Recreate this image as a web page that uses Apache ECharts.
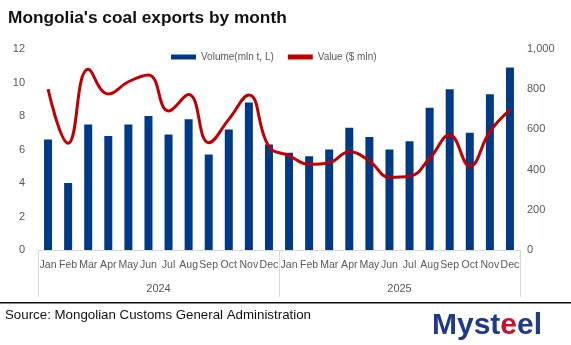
<!DOCTYPE html>
<html><head><meta charset="utf-8">
<script src="https://cdn.jsdelivr.net/npm/echarts@6/dist/echarts.min.js"></script>
<style>html,body{margin:0;padding:0;background:#fff}#c{width:571px;height:345px}</style>
</head><body><div id="c"></div>
<script>
const months = ['Jan','Feb','Mar','Apr','May','Jun','Jul','Aug','Sep','Oct','Nov','Dec','Jan','Feb','Mar','Apr','May','Jun','Jul','Aug','Sep','Oct','Nov','Dec'];
const years = ['2024','2025'];
const volume = [6.6,4.0,7.5,6.8,7.5,8.0,6.9,7.8,5.7,7.2,8.8,6.3, 5.8,5.6,6.0,7.3,6.75,6.0,6.5,8.5,9.6,7.0,9.3,10.9];
const value = [800,531,899,776,837,871,692,774,534,650,771,515, 470,426,434,489,443,362,367,456,572,418,589,697];
const leftTicks = [0,12,2];
const rightTicks = [0,1000,200];

const chart = echarts.init(document.getElementById('c'));
const grey = '#595959';
const font = 'Liberation Sans';
chart.setOption({
  animation:false,
  textStyle:{fontFamily:font},
  title:{text:"Mongolia's coal exports by month",left:3,top:5,textStyle:{fontSize:17.3,fontWeight:'bold',color:'#111',fontFamily:font}},
  legend:{left:166,top:47,itemGap:14,itemWidth:25,itemHeight:5,textStyle:{color:grey,fontSize:10},
    data:[{name:'Volume(mln t, L)',icon:'rect'},{name:'Value ($ mln)',icon:'rect',itemStyle:{color:'#C00000'}}]},
  grid:{left:38,right:51,top:49,bottom:95},
  xAxis:[
    {type:'category',data:months,position:'bottom',axisLine:{lineStyle:{color:'#d9d9d9'}},axisTick:{show:false},
     axisLabel:{interval:0,color:grey,fontSize:10.5,margin:10}},
    {type:'category',data:years,position:'bottom',axisLine:{show:false},
     axisTick:{show:true,length:47,inside:false,lineStyle:{color:'#d9d9d9'}},
     axisLabel:{color:grey,fontSize:11,margin:33},splitLine:{show:false}}
  ],
  yAxis:[
    {type:'value',min:leftTicks[0],max:leftTicks[1],interval:leftTicks[2],splitLine:{show:false},axisLine:{show:false},
     axisLabel:{color:grey,fontSize:11,margin:13}},
    {type:'value',min:rightTicks[0],max:rightTicks[1],interval:rightTicks[2],splitLine:{show:false},axisLine:{show:false},
     axisLabel:{color:grey,fontSize:11,margin:7,formatter:v=>v.toLocaleString('en-US')}}
  ],
  series:[
    {name:'Volume(mln t, L)',type:'bar',data:volume,xAxisIndex:0,yAxisIndex:0,barWidth:8,itemStyle:{color:'#003A86'}},
    {name:'Value ($ mln)',type:'line',data:value,xAxisIndex:0,yAxisIndex:1,smooth:0.45,showSymbol:false,symbol:'none',
     lineStyle:{color:'#C00000',width:3},itemStyle:{color:'#C00000'}}
  ],
  graphic:[
    {type:'rect',shape:{x:0,y:302,width:571,height:1.5},style:{fill:'#111'}},
    {type:'text',left:5,top:309,style:{text:'Source: Mongolian Customs General Administration',fontSize:13.3,fill:'#111',fontFamily:font}},
    {type:'text',left:432,top:311,style:{text:'{b|Myst}{r|e}{b|el}',rich:{b:{fontSize:30,fontWeight:'bold',fill:'#1E3A8A',fontFamily:font},r:{fontSize:30,fontWeight:'bold',fill:'#C8102E',fontFamily:font}}}}
  ]
});
</script></body></html>
